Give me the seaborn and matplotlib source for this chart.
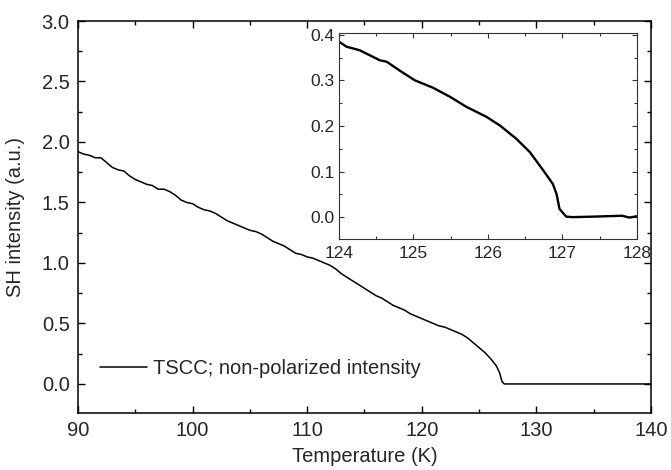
import matplotlib
matplotlib.use("Agg")
import matplotlib.pyplot as plt
from matplotlib.ticker import MultipleLocator
import numpy as np
import pandas as pd
import seaborn as sns

# ---- data ----
temp_main = [90.0, 90.5, 91.0, 91.5, 92.0, 92.5, 93.0, 93.5, 94.0, 94.5,
             95.0, 95.5, 96.0, 96.5, 97.0, 97.5, 98.0, 98.5, 99.0, 99.5,
             100.0, 100.5, 101.0, 101.5, 102.0, 102.5, 103.0, 103.5, 104.0, 104.5,
             105.0, 105.5, 106.0, 106.5, 107.0, 107.5, 108.0, 108.5, 109.0, 109.5,
             110.0, 110.5, 111.0, 111.5, 112.0, 112.5, 113.0, 113.5, 114.0, 114.5,
             115.0, 115.5, 116.0, 116.5, 117.0, 117.5, 118.0, 118.5, 119.0, 119.5,
             120.0, 120.5, 121.0, 121.5, 122.0, 122.5, 123.0, 123.5, 124.0, 124.5,
             125.0, 125.5, 126.0, 126.5, 126.8, 127.0, 127.2, 128.0, 130.0, 132.0,
             134.0, 136.0, 138.0, 140.0]
sh_main = [1.92, 1.90, 1.89, 1.87, 1.87, 1.83, 1.79, 1.77, 1.76, 1.72,
           1.69, 1.67, 1.65, 1.64, 1.61, 1.61, 1.59, 1.56, 1.52, 1.50,
           1.49, 1.46, 1.44, 1.43, 1.41, 1.38, 1.35, 1.33, 1.31, 1.29,
           1.27, 1.26, 1.24, 1.21, 1.18, 1.16, 1.14, 1.11, 1.08, 1.07,
           1.05, 1.04, 1.02, 1.00, 0.98, 0.95, 0.91, 0.88, 0.85, 0.82,
           0.79, 0.76, 0.73, 0.71, 0.68, 0.65, 0.63, 0.61, 0.58, 0.56,
           0.54, 0.52, 0.50, 0.48, 0.47, 0.45, 0.43, 0.41, 0.38, 0.34,
           0.30, 0.26, 0.21, 0.15, 0.09, 0.02, 0.0, 0.0, 0.0, 0.0,
           0.0, 0.0, 0.0, 0.0]

temp_inset = [124.0, 124.1, 124.28, 124.55, 124.64, 124.81, 125.02, 125.26, 125.49,
              125.71, 125.98, 126.16, 126.38, 126.56, 126.74, 126.87, 126.92, 126.96,
              127.05, 127.14, 127.4, 127.6, 127.8, 127.9, 128.0]
sh_inset = [0.385, 0.374, 0.366, 0.344, 0.341, 0.322, 0.300, 0.284, 0.264,
            0.242, 0.220, 0.201, 0.172, 0.143, 0.103, 0.073, 0.051, 0.018,
            0.001, 0.0, 0.001, 0.002, 0.003, -0.001, 0.002]

main_xticks = [90, 100, 110, 120, 130, 140]
main_yticks = [0.0, 0.5, 1.0, 1.5, 2.0, 2.5, 3.0]
inset_xticks = [124, 125, 126, 127, 128]
inset_yticks = [0.0, 0.1, 0.2, 0.3, 0.4]

# ---- style ----
sns.set_theme(style="ticks")
plt.rcParams["font.family"] = ["Liberation Sans", "DejaVu Sans"]

fig = plt.figure(figsize=(6.71, 4.70), dpi=100)
ax = fig.add_axes([0.1162, 0.1213, 0.854, 0.834])

df_main = pd.DataFrame({"T": temp_main, "I": sh_main})
sns.lineplot(data=df_main, x="T", y="I", ax=ax, color="black", linewidth=1.1,
             estimator=None, sort=False, label="TSCC; non-polarized intensity")

ax.set_xlim(90, 140)
ax.set_ylim(-0.24, 3.0)
ax.set_xticks(main_xticks)
ax.set_yticks(main_yticks)
ax.set_xticklabels([f"{v:d}" for v in main_xticks])
ax.set_yticklabels([f"{v:.1f}" for v in main_yticks])
ax.xaxis.set_minor_locator(MultipleLocator(5))
ax.yaxis.set_minor_locator(MultipleLocator(0.25))
ax.tick_params(which="both", direction="in", top=True, right=True, color="black")
ax.tick_params(which="major", length=5, width=1.0, labelsize=14.5, pad=6)
ax.tick_params(which="minor", length=3, width=1.0)
for s in ax.spines.values():
    s.set_linewidth(1.1)
    s.set_color("black")
ax.set_xlabel("Temperature (K)", fontsize=14.5, labelpad=5)
ax.set_ylabel("SH intensity (a.u.)", fontsize=14.5, labelpad=12)

ax.legend(loc="lower left", bbox_to_anchor=(0.038, 0.09), frameon=False,
          borderaxespad=0, borderpad=0, handlelength=2.35, handletextpad=0.3,
          fontsize=14.5)

# ---- inset ----
axi = fig.add_axes([0.5052, 0.4915, 0.4441, 0.4383])
axi.set_facecolor("white")
df_inset = pd.DataFrame({"T": temp_inset, "I": sh_inset})
sns.lineplot(data=df_inset, x="T", y="I", ax=axi, color="black", linewidth=1.7,
             estimator=None, sort=False)
axi.set_xlim(124, 128)
axi.set_ylim(-0.048, 0.404)
axi.set_xticks(inset_xticks)
axi.set_yticks(inset_yticks)
axi.set_xticklabels([f"{v:d}" for v in inset_xticks])
axi.set_yticklabels([f"{v:.1f}" for v in inset_yticks])
axi.xaxis.set_minor_locator(MultipleLocator(0.5))
axi.yaxis.set_minor_locator(MultipleLocator(0.05))
axi.tick_params(which="both", direction="in", top=True, right=True, color="#333333")
axi.tick_params(which="major", length=3.5, width=0.8, labelsize=12.5, pad=3)
axi.tick_params(axis="x", which="major", pad=5)
axi.tick_params(which="minor", length=2, width=0.8)
for s in axi.spines.values():
    s.set_linewidth(0.8)
    s.set_color("#333333")
axi.set_xlabel("")
axi.set_ylabel("")

fig.savefig("out.png", dpi=100)
